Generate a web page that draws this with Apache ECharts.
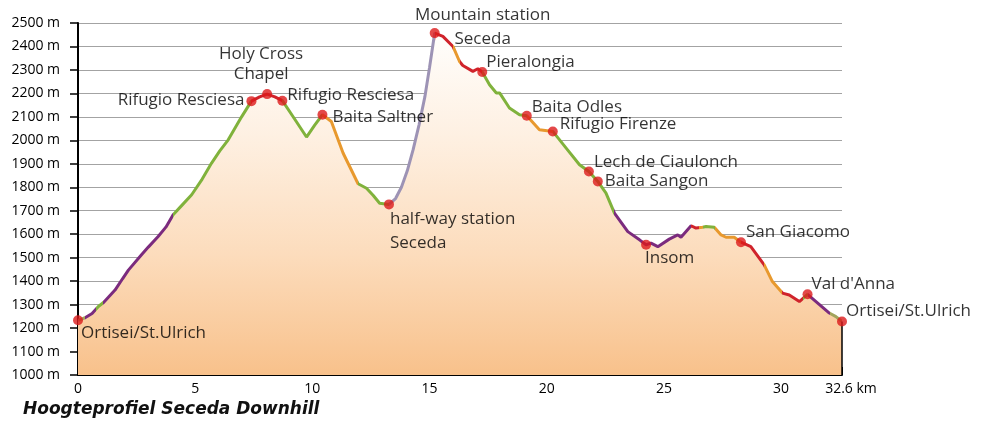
<!DOCTYPE html>
<html><head><meta charset="utf-8">
<script src="https://cdn.jsdelivr.net/npm/echarts@6/dist/echarts.min.js"></script>
<style>html,body{margin:0;padding:0;background:#fff}#c{width:982px;height:431px}</style>
</head><body><div id="c"></div>
<script>
// ---- data ----
const distanceKm = [0.00,0.30,0.60,0.87,1.10,1.58,1.90,2.15,2.71,3.00,3.42,3.75,4.06,4.45,4.85,5.30,5.70,6.05,6.41,6.98,7.40,7.75,8.07,8.40,8.72,9.25,9.75,10.10,10.43,10.81,11.31,11.95,12.31,12.60,12.87,13.27,13.55,13.80,14.05,14.30,14.55,14.80,15.00,15.22,15.57,16.00,16.28,16.42,16.85,17.06,17.25,17.56,17.85,17.99,18.41,18.84,19.15,19.69,20.26,20.83,21.40,21.80,22.18,22.53,22.89,23.46,23.96,24.24,24.45,24.74,25.23,25.59,25.73,26.16,26.37,26.65,26.80,27.15,27.44,27.65,28.00,28.29,28.71,29.28,29.63,30.06,30.35,30.78,31.13,31.49,32.06,32.34,32.60];
const elevationM = [1233,1244,1262,1292,1310,1362,1410,1447,1512,1545,1590,1630,1683,1725,1768,1835,1903,1955,2002,2100,2167,2185,2197,2185,2169,2090,2014,2065,2109,2080,1946,1815,1796,1765,1732,1727,1752,1800,1870,1960,2065,2185,2310,2457,2443,2400,2336,2319,2294,2305,2291,2237,2202,2202,2138,2109,2105,2045,2038,1967,1896,1867,1825,1775,1690,1611,1576,1555,1562,1547,1579,1597,1587,1636,1626,1630,1633,1630,1597,1587,1587,1566,1547,1469,1398,1349,1341,1313,1344,1313,1264,1249,1228];

const poiNames = ['Ortisei/St.Ulrich','Rifugio Resciesa','Holy Cross\nChapel','Rifugio Resciesa','Baita Saltner','half-way station\nSeceda','Mountain station\nSeceda','Pieralongia','Baita Odles','Rifugio Firenze','Lech de Ciaulonch','Baita Sangon','Insom','San Giacomo',"Val d'Anna",'Ortisei/St.Ulrich'];
const poiKm   = [0.00,7.40,8.07,8.72,10.43,13.27,15.22,17.25,19.15,20.26,21.80,22.18,24.24,28.29,31.13,32.60];
const poiElev = [1233,2167,2197,2169,2109,1727,2457,2291,2105,2038,1867,1825,1555,1566,1344,1228];

// trail segments: [startKm, endKm] and surface type
const segStartKm = [0,0.30,0.75,1.05,4.06,7.40,8.72,10.43,11.95,13.27,15.22,16.00,16.30,17.25,19.15,20.26,22.89,26.16,26.50,26.65,27.20,28.29,29.28,30.06,30.95,31.13,32.10];
const segEndKm   = [0.30,0.75,1.05,4.06,7.40,8.72,10.43,11.95,13.27,15.22,16.00,16.30,17.25,19.15,20.26,22.89,26.16,26.50,26.65,27.20,28.29,29.28,30.06,30.95,31.13,32.10,32.61];
const segType    = ['olive','purple','green','purple','green','red','green','orange','green','lift','red','orange','red','green','orange','green','purple','red','orange','green','orange','red','orange','red','green','purple','olive'];

const yMin = 1000, yMax = 2500, yStep = 100;
const xMin = 0, xMax = 32.6, xStep = 5;

// ---- styles ----
const typeColor = {green:'#80b23c', purple:'#7b2b7e', orange:'#e8992e', red:'#d0232b', lift:'#9d93b5', olive:'#a2a45c'};
// label layout per POI: [align, dx, dy, lineHeight]
const poiLayout = [
  ['left',3,13,22],['right',-7,-1,22],['center',-6,-30,20],['left',5,-6,22],['left',10,2,22],
  ['left',1,27,24],['center',48,-6,24],['left',4,-10,22],['left',5,-8.5,22],['left',7,-7,22],
  ['left',5,-9,22],['left',7,0,22],['left',-1,13,22],['left',5,-10,22],['left',4,-10,22],['left',4,-10,22]
];
const LBL_FONT = 'Open Sans';

const chart = echarts.init(document.getElementById('c'), null, {renderer:'canvas'});
const profile = distanceKm.map((d,i)=>[d, elevationM[i]]);
const pieces = segStartKm.map((s,i)=>({gte:s, lt:segEndKm[i], color:typeColor[segType[i]]}));
const lastI = distanceKm.length-1;

chart.setOption({
  animation:false,
  backgroundColor:'#ffffff',
  title:{
    text:'Hoogteprofiel Seceda Downhill', left:18, top:396,
    textStyle:{fontFamily:'DejaVu Sans', fontStyle:'italic', fontWeight:'bold', fontSize:17, color:'#111'}
  },
  grid:{left:78, right:140, top:23, bottom:56, containLabel:false},
  xAxis:{
    type:'value', min:xMin, max:xMax, interval:xStep,
    axisLine:{show:true, onZero:false, lineStyle:{color:'#000', width:2}},
    axisTick:{show:true, inside:true, length:8, lineStyle:{color:'#000', width:2}},
    minorTick:{show:true, splitNumber:5, length:4, lineStyle:{color:'#000', width:1.5}},
    splitLine:{show:false},
    axisLabel:{
      margin:7, fontFamily:LBL_FONT, fontSize:14, color:'#000',
      formatter: v => (Math.abs(v - xMax) < 1e-6 ? '{u|' + xMax + ' km}' : String(v)),
      rich:{u:{fontFamily:LBL_FONT, fontSize:14, color:'#000', padding:[0,0,0,18]}}
    }
  },
  yAxis:{
    type:'value', min:yMin, max:yMax, interval:yStep,
    axisLine:{show:true, lineStyle:{color:'#000', width:2}},
    axisTick:{show:true, inside:false, length:8, lineStyle:{color:'#000', width:1.5}},
    splitLine:{show:true, lineStyle:{color:'#a3a3a3', width:1}},
    axisLabel:{margin:18, fontFamily:LBL_FONT, fontSize:14, color:'#000', padding:[0,0,8,0],
      formatter: v => v + ' m'}
  },
  visualMap:{type:'piecewise', show:false, seriesIndex:0, dimension:0, pieces:pieces},
  series:[
    {
      type:'line', data:profile, showSymbol:false, symbol:'none', z:3,
      lineStyle:{width:3},
      areaStyle:{opacity:1, origin:'start', color:new echarts.graphic.LinearGradient(0,0,0,1,[
        {offset:0, color:'#fffefc'},{offset:0.3, color:'#fef0e2'},{offset:0.65, color:'#fcdcbc'},{offset:1, color:'#f8c18b'}
      ])},
      markLine:{silent:true, symbol:'none', label:{show:false}, lineStyle:{color:'#000', width:1.5, type:'solid'},
        data:[[{coord:[distanceKm[lastI], yMin]},{coord:[distanceKm[lastI], elevationM[lastI]]}]]}
    },
    {
      type:'scatter', z:6, symbol:'circle', symbolSize:10,
      itemStyle:{color:'#dc1a1c'},
      data: poiKm.map((k,i)=>({
        value:[k, poiElev[i]],
        label:{show:true, position:'inside', formatter:poiNames[i], align:poiLayout[i][0], verticalAlign:'middle',
          offset:[poiLayout[i][1], poiLayout[i][2]], lineHeight:poiLayout[i][3],
          fontFamily:LBL_FONT, fontSize:17, color:'#000'}
      }))
    }
  ]
});
</script></body></html>
